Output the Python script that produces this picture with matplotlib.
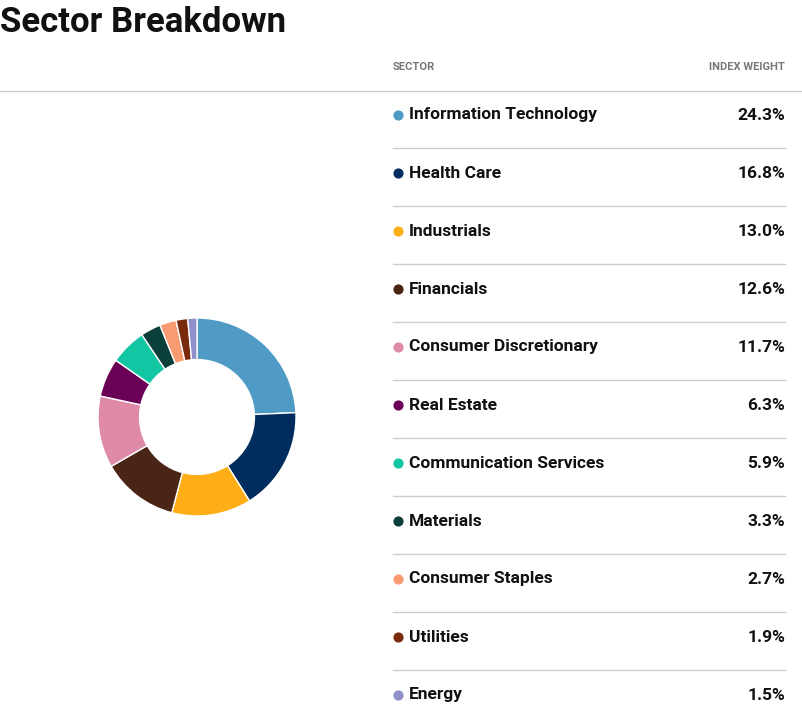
import matplotlib.pyplot as plt

plt.rcParams['font.family'] = ['Roboto', 'DejaVu Sans']

sectors = ["Information Technology", "Health Care", "Industrials", "Financials",
           "Consumer Discretionary", "Real Estate", "Communication Services",
           "Materials", "Consumer Staples", "Utilities", "Energy"]
weights = [24.3, 16.8, 13.0, 12.6, 11.7, 6.3, 5.9, 3.3, 2.7, 1.9, 1.5]
colors = ["#4f9bc6", "#002d5e", "#ffae17", "#4a2414", "#de8aa8", "#6b0057",
          "#12c6a3", "#0b3f3a", "#f89b72", "#7a2a0c", "#8f8fc9"]

W, H = 802, 718
fig = plt.figure(figsize=(W / 100, H / 100), dpi=100)

# overlay axes in pixel coordinates
ax = fig.add_axes([0, 0, 1, 1])
ax.set_xlim(0, W)
ax.set_ylim(H, 0)
ax.axis('off')

ax.text(0, 22, "Sector Breakdown", fontsize=25, fontweight='bold', va='center', ha='left', color='#111111')
ax.text(393, 67, "SECTOR", fontsize=8, color='#777777', va='center', fontweight='bold')
ax.text(785, 67, "INDEX WEIGHT", fontsize=8, color='#777777', va='center', ha='right', fontweight='bold')
ax.plot([0, W], [91, 91], color='#cccccc', lw=1)

for i, (name, w, c) in enumerate(zip(sectors, weights, colors)):
    y = 115 + 58 * i
    ax.scatter([398], [y], s=40, color=c, zorder=3)
    ax.text(409, y, name, fontsize=12.5, fontweight='bold', va='center', color='#111111')
    ax.text(785, y, f"{w:.1f}%", fontsize=12.5, fontweight='bold', va='center', ha='right', color='#111111')
    if i < len(sectors) - 1:
        ax.plot([393, 785], [y + 33, y + 33], color='#cccccc', lw=1)

# donut
pax = fig.add_axes([97 / W, (H - 517) / H, 200 / W, 200 / H])
pax.pie(weights, colors=colors, startangle=90, counterclock=False,
        wedgeprops=dict(width=0.42, edgecolor='white', linewidth=1))
pax.set_xlim(-1.01, 1.01)
pax.set_ylim(-1.01, 1.01)
pax.set_aspect('equal')

fig.savefig("out.png", dpi=100)
